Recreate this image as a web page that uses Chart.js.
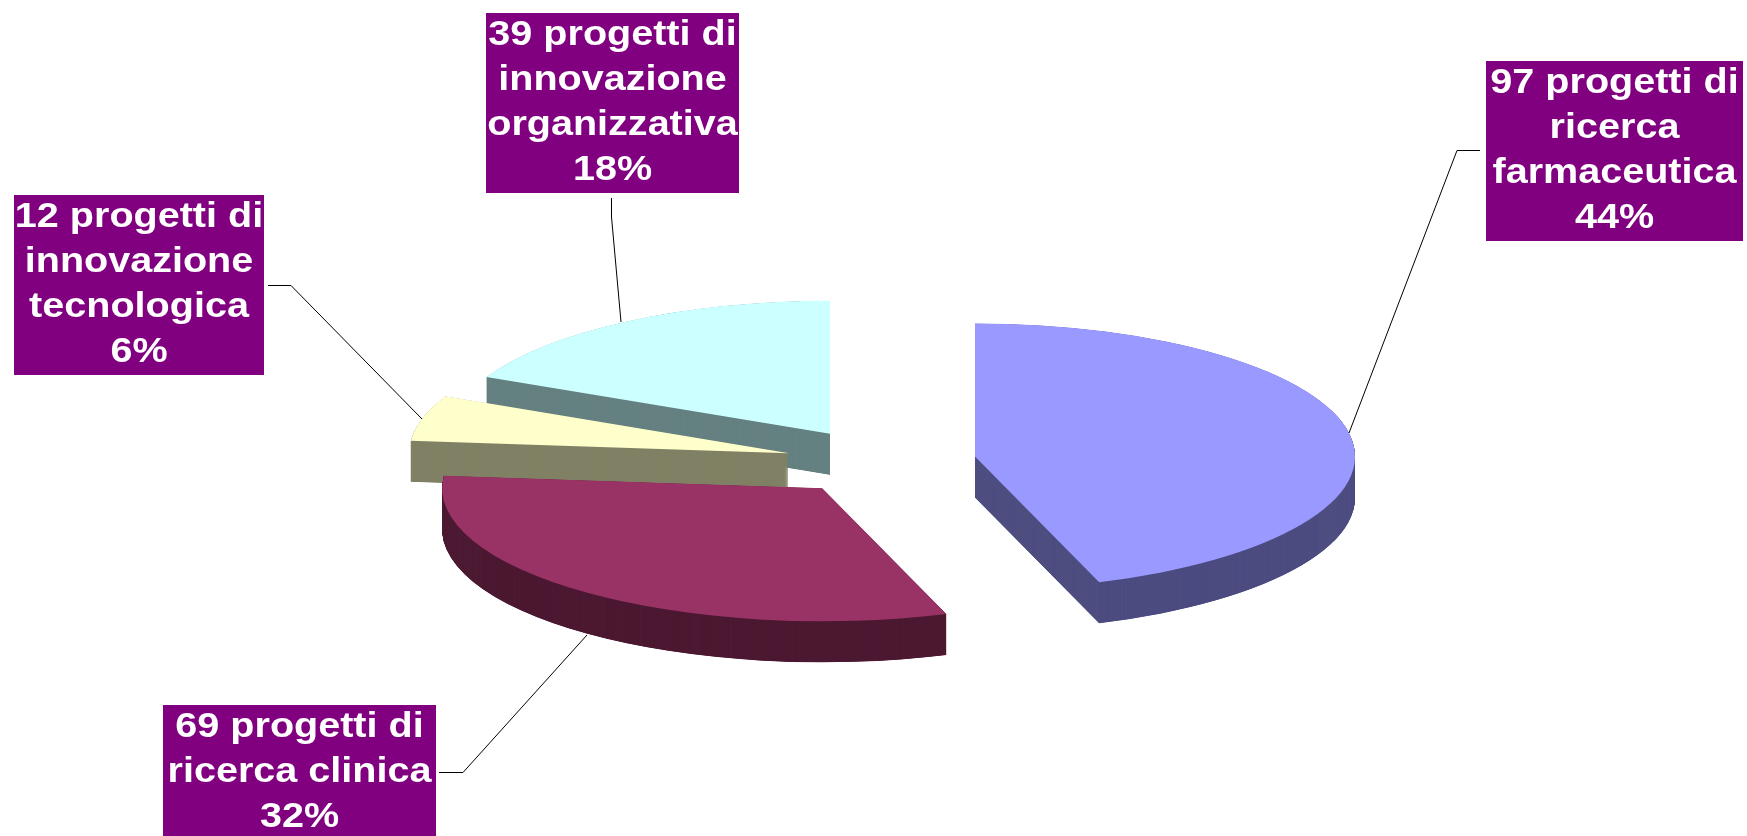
<!DOCTYPE html>
<html lang="it">
<head>
<meta charset="utf-8">
<title>Progetti per tipologia</title>
<script src="https://cdn.jsdelivr.net/npm/chart.js@4"></script>
<style>
    html, body { margin: 0; padding: 0; background: #fff; overflow: hidden; }
    canvas { display: block; }
</style>
</head>
<body>
<canvas id="torta" width="1747" height="836"></canvas>
<script>
// Dati
const categorie = ['ricerca farmaceutica', 'ricerca clinica', 'innovazione tecnologica', 'innovazione organizzativa'];
const progetti = [97, 69, 12, 39];
const percentuali = [44, 32, 6, 18];
const righeDescrizione = [
    ['ricerca', 'farmaceutica'],
    ['ricerca clinica'],
    ['innovazione', 'tecnologica'],
    ['innovazione', 'organizzativa']
];

// Colori delle fette: faccia superiore e parete laterale
const coloriFaccia = ['#9999ff', '#993366', '#ffffcc', '#ccffff'];
const coloriParete = ['#4d4d80', '#4d1a33', '#808066', '#668080'];

// Geometria della torta 3D
const centroX = 881;
const centroY = 462;
const raggio = 380;
const schiacciamento = 0.35;
const esplosione = 95.3;
const spessore = 41;
const passoParete = 0.25;

// Riquadri delle etichette e linee guida, stesso ordine delle categorie
const riquadri = [
    { x: 1486, y: 61, w: 257, h: 180 },
    { x: 163, y: 705, w: 273, h: 131 },
    { x: 14, y: 195, w: 250, h: 180 },
    { x: 486, y: 13, w: 253, h: 180 }
];
const lineeGuida = [
    [[1480, 150.5], [1457, 150.5], [1349, 433]],
    [[439, 772.5], [463, 772.5], [587, 635]],
    [[268, 285.5], [291, 285.5], [422, 419]],
    [[611.5, 198], [611.5, 217], [621, 322]]
];
const passoRiga = 45;
const primaRiga = 32;
const allungoTesto = 1.13;

function disegnaFetta(ctx, arco, colore, dy) {
    const opzioni = arco.options;
    const meta = (arco.startAngle + arco.endAngle) / 2;
    ctx.save();
    ctx.translate(centroX, centroY + dy);
    ctx.scale(1, schiacciamento);
    ctx.translate(Math.cos(meta) * esplosione, Math.sin(meta) * esplosione);
    ctx.translate(-arco.x, -arco.y);
    arco.options = Object.assign({}, opzioni, { backgroundColor: colore });
    arco.draw(ctx);
    arco.options = opzioni;
    ctx.restore();
}

const torta3D = {
    id: 'torta3D',
    // Sostituisce il disegno piatto: dalla fetta in fondo a quella davanti
    beforeDatasetsDraw(chart) {
        const ctx = chart.ctx;
        const archi = chart.getDatasetMeta(0).data;
        [3, 2, 1, 0].forEach(i => {
            for (let dy = spessore; dy > 0; dy -= passoParete) {
                disegnaFetta(ctx, archi[i], coloriParete[i], dy);
            }
            disegnaFetta(ctx, archi[i], coloriFaccia[i], 0);
        });
        return false;
    },
    afterDraw(chart) {
        const ctx = chart.ctx;
        ctx.save();
        ctx.strokeStyle = '#000';
        ctx.lineWidth = 1;
        lineeGuida.forEach(punti => {
            ctx.beginPath();
            punti.forEach((p, k) => k ? ctx.lineTo(p[0], p[1]) : ctx.moveTo(p[0], p[1]));
            ctx.stroke();
        });
        ctx.textAlign = 'center';
        ctx.textBaseline = 'alphabetic';
        ctx.font = 'bold 35px "Liberation Sans", Arial, sans-serif';
        categorie.forEach((c, i) => {
            const r = riquadri[i];
            ctx.fillStyle = '#800080';
            ctx.fillRect(r.x, r.y, r.w, r.h);
            ctx.fillStyle = '#fff';
            const righe = [progetti[i] + ' progetti di', ...righeDescrizione[i], percentuali[i] + '%'];
            righe.forEach((testo, k) => {
                ctx.save();
                ctx.translate(r.x + r.w / 2, r.y + primaRiga + k * passoRiga);
                ctx.scale(allungoTesto, 1);
                ctx.fillText(testo, 0, 0);
                ctx.restore();
            });
        });
        ctx.restore();
    }
};

new Chart(document.getElementById('torta').getContext('2d'), {
    type: 'pie',
    data: {
        labels: categorie,
        datasets: [{
            data: progetti,
            backgroundColor: coloriFaccia,
            borderWidth: 0,
            radius: raggio
        }]
    },
    options: {
        responsive: false,
        animation: false,
        plugins: { legend: { display: false }, tooltip: { enabled: false } }
    },
    plugins: [torta3D]
});
</script>
</body>
</html>
